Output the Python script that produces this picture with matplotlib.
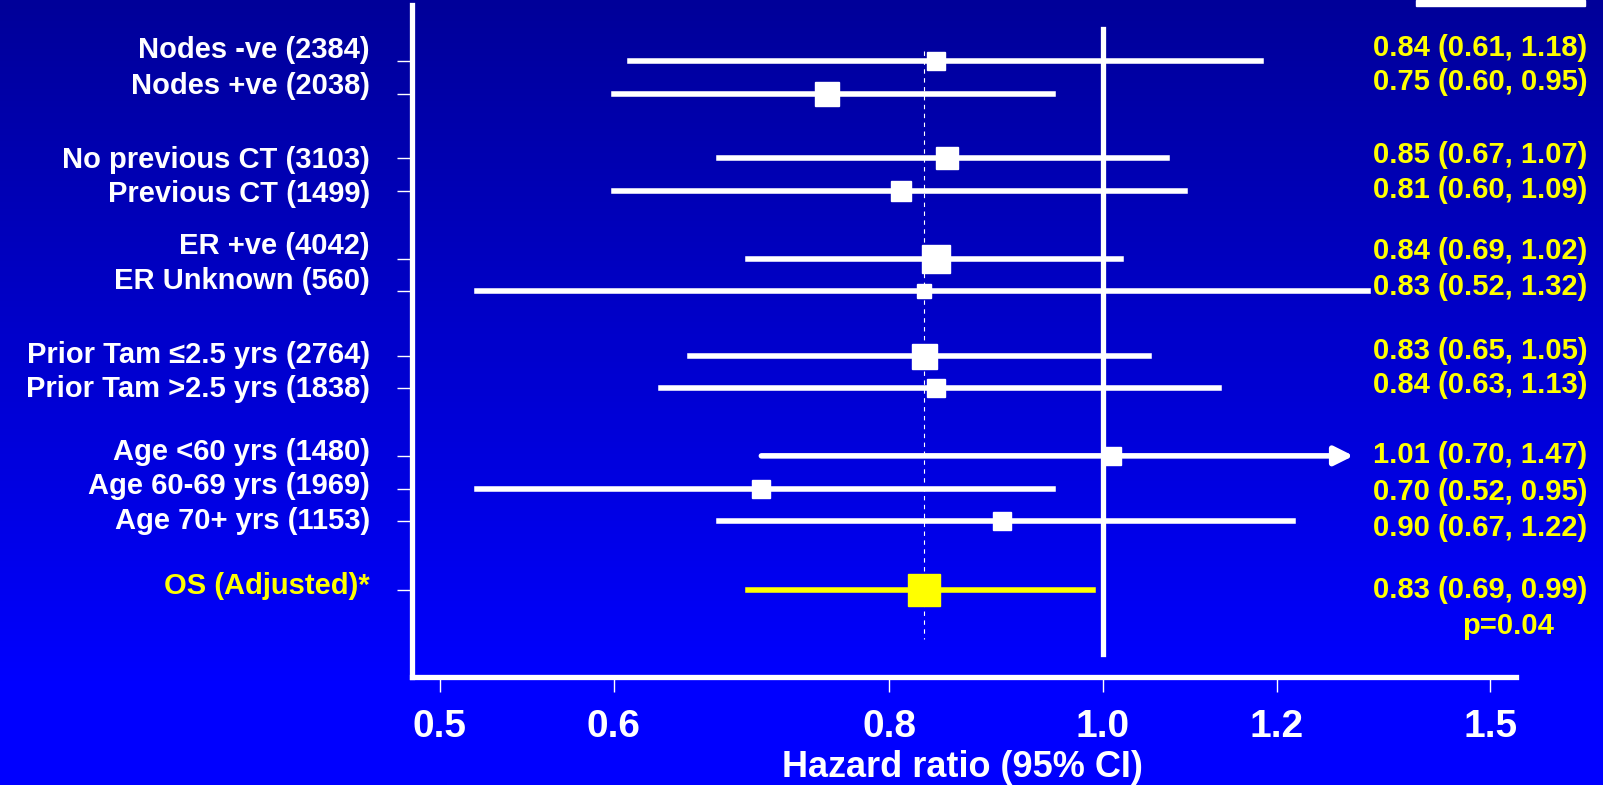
import numpy as np
import matplotlib
matplotlib.use('Agg')
import matplotlib.pyplot as plt
from matplotlib.patches import Rectangle

plt.rcParams['font.family'] = ['Liberation Sans', 'DejaVu Sans']
plt.rcParams['font.weight'] = 'bold'

# data
etiquetas = ['Nodes -ve (2384)', 'Nodes +ve (2038)', 'No previous CT (3103)', 'Previous CT (1499)',
             'ER +ve (4042)', 'ER Unknown (560)', 'Prior Tam \u22642.5 yrs (2764)', 'Prior Tam >2.5 yrs (1838)',
             'Age <60 yrs (1480)', 'Age 60-69 yrs (1969)', 'Age 70+ yrs (1153)', 'OS (Adjusted)*']
hr = [0.84, 0.75, 0.85, 0.81, 0.84, 0.83, 0.83, 0.84, 1.01, 0.70, 0.90, 0.83]
bajo = [0.61, 0.60, 0.67, 0.60, 0.69, 0.52, 0.65, 0.63, 0.70, 0.52, 0.67, 0.69]
alto = [1.18, 0.95, 1.07, 1.09, 1.02, 1.32, 1.05, 1.13, 1.47, 0.95, 1.22, 0.99]
valor_p = 'p=0.04'
ticks_x = [0.5, 0.6, 0.8, 1.0, 1.2, 1.5]
ticks_lbl = ['0.5', '0.6', '0.8', '1.0', '1.2', '1.5']

# layout (rows in pixel units of the 768-high slide)
filas = [60, 92, 155, 187, 253, 285, 348, 380, 446, 478, 510, 577]
y_izq = [49, 84, 157, 190, 241, 275, 347, 381, 442, 475, 510, 573]
y_der = [47, 80, 152, 186, 246, 281, 343, 377, 445, 481, 517, 577]
tam = [13, 17, 16, 14, 20, 10, 18, 13, 13, 13, 13, 23]
flecha_umbral = 1.4
flecha_fin = 1.30

W, H = 1568, 768
fig = plt.figure(figsize=(16.03, 7.85), dpi=100)

# fondo degradado
fondo = fig.add_axes([0, 0, 1, 1], zorder=-5)
grad = np.linspace(0, 1, 256).reshape(-1, 1)
cols = np.zeros((256, 1, 3))
cols[:, 0, 2] = 0.60 + 0.40 * np.clip(grad[:, 0] * 1.15, 0, 1)
fondo.imshow(cols, aspect='auto', extent=[0, 1, 0, 1], origin='upper')
fondo.set_axis_off()
fondo.add_patch(Rectangle((1385 / W, 1 - 6 / H), 165 / W, 6 / H, color='white', transform=fondo.transAxes))

ax = fig.add_axes([403 / W, 1 - 662 / H, (1483 - 403) / W, (662 - 5) / H])
ax.patch.set_alpha(0)
ax.set_xscale('log')
ax.set_xlim(0.4858, 1.541)
ax.set_ylim(662, 5)

for s in ['top', 'right']:
    ax.spines[s].set_visible(False)
for s in ['left', 'bottom']:
    ax.spines[s].set_color('white')
    ax.spines[s].set_linewidth(3.8)

ax.set_xticks(ticks_x)
ax.set_xticklabels(ticks_lbl)
ax.minorticks_off()
ax.tick_params(axis='x', colors='white', length=11, width=1, labelsize=28, pad=12)
ax.set_yticks(filas)
ax.set_yticklabels([])
ax.tick_params(axis='y', colors='white', length=11, width=1)
for t in ax.get_xticklabels():
    t.set_fontweight('bold')

fig.text(941 / W, 1 - 751 / H, 'Hazard ratio (95% CI)', color='white', fontsize=26, fontweight='bold',
         ha='center', va='center')

# linea de no efecto y linea del total
ax.plot([1.0, 1.0], [28, 640], color='white', lw=3.8, zorder=2)
ax.plot([hr[-1], hr[-1]], [50, 625], color='white', lw=0.8, ls=(0, (4, 4)), zorder=1)

for i in range(len(hr)):
    color = 'yellow' if i == len(hr) - 1 else 'white'
    if alto[i] > flecha_umbral:
        ax.annotate('', xy=(flecha_fin, filas[i]), xytext=(bajo[i], filas[i]),
                    arrowprops=dict(arrowstyle='-|>', lw=4, color=color, mutation_scale=28,
                                    shrinkA=0, shrinkB=0), annotation_clip=False)
    else:
        ax.plot([bajo[i], alto[i]], [filas[i], filas[i]], color=color, lw=4, clip_on=False, zorder=3)
    ax.plot(hr[i], filas[i], marker='s', ms=tam[i], color=color, mec=color, zorder=4, clip_on=False)

    fig.text(362 / W, 1 - y_izq[i] / H, etiquetas[i], color=color, fontsize=21, fontweight='bold',
             ha='right', va='center')
    txt = '%.2f (%.2f, %.2f)' % (hr[i], bajo[i], alto[i])
    fig.text(1553 / W, 1 - y_der[i] / H, txt, color='yellow', fontsize=21, fontweight='bold',
             ha='right', va='center')

fig.text(1475 / W, 1 - 612 / H, valor_p, color='yellow', fontsize=21, fontweight='bold',
         ha='center', va='center')

fig.savefig('out.png', dpi=100)
